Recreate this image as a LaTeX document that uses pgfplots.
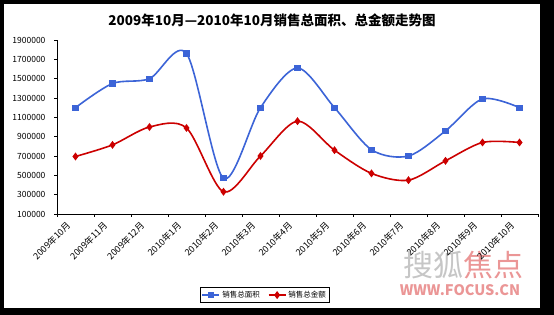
\documentclass[border=0pt]{standalone}
\usepackage{fontspec}
\setmainfont{Noto Sans CJK SC}
\usepackage{pgfplots}
\pgfplotsset{compat=1.18}
\definecolor{sblue}{RGB}{60,100,215}
\definecolor{sred}{RGB}{204,0,0}
\definecolor{wm}{RGB}{235,150,150}
\begin{document}
\begin{tikzpicture}[x=1pt,y=1pt]
\fill[black] (0,0) rectangle (554,315);
\fill[white] (4,7) rectangle (540,311);
\node[font=\fontsize{13.5}{15}\selectfont\bfseries] at (272,295) {2009年10月—2010年10月销售总面积、总金额走势图};
\node[font=\fontsize{30}{32}\selectfont, text=gray!45] at (463,50) {搜狐\textcolor{wm}{焦点}};
\node[font=\fontsize{14.5}{16}\selectfont\bfseries, text=wm] at (460,25) {WWW.FOCUS.CN};
\begin{axis}[
  at={(57pt,101pt)}, anchor=south west,
  scale only axis, width=481pt, height=174pt,
  xmin=0, xmax=13, ymin=100000, ymax=1900000,
  axis x line*=bottom, axis y line*=left,
  axis line style={black, line width=0.6pt, -},
  xtick={0,1,...,13}, xticklabels={},
  extra x ticks={0.5,1.5,...,12.5},
  extra x tick labels={2009年10月,2009年11月,2009年12月,2010年1月,2010年2月,2010年3月,2010年4月,2010年5月,2010年6月,2010年7月,2010年8月,2010年9月,2010年10月},
  extra x tick style={major tick length=0pt, tick label style={xshift=-6pt, yshift=-9pt, rotate=45, anchor=east, font=\fontsize{9}{10}\selectfont, inner sep=1pt}},
  ytick={100000,300000,...,1900000},
  scaled y ticks=false,
  yticklabel style={xshift=-5pt, /pgf/number format/fixed, /pgf/number format/1000 sep={}, /pgf/number format/assume math mode=true, font=\fontsize{8.5}{9}\selectfont},
  tick style={black, line width=0.5pt},
  major tick length=3pt,
  tick align=outside,
  legend style={at={(0.432,-0.466)}, anchor=center, legend columns=2, draw=black, line width=0.5pt, font=\fontsize{7.5}{8}\selectfont, inner sep=1.5pt, /tikz/every even column/.append style={column sep=6pt}},
  legend cell align=left,
]
\addplot[sblue, line width=1.6pt, smooth, mark=square*, mark size=2.3pt, mark options={fill=sblue, draw=sblue}] coordinates {
(0.5,1200000) (1.5,1450000) (2.5,1500000) (3.5,1760000) (4.5,470000) (5.5,1200000) (6.5,1610000) (7.5,1200000) (8.5,765000) (9.5,700000) (10.5,960000) (11.5,1290000) (12.5,1200000)};
\addlegendentry{销售总面积}
\addplot[sred, line width=1.6pt, smooth, mark=diamond*, mark size=2.7pt, mark options={fill=sred, draw=sred}] coordinates {
(0.5,695000) (1.5,815000) (2.5,1000000) (3.5,990000) (4.5,330000) (5.5,700000) (6.5,1060000) (7.5,760000) (8.5,520000) (9.5,450000) (10.5,650000) (11.5,840000) (12.5,840000)};
\addlegendentry{销售总金额}
\end{axis}
\useasboundingbox (0,0) rectangle (554,315);
\end{tikzpicture}
\end{document}
